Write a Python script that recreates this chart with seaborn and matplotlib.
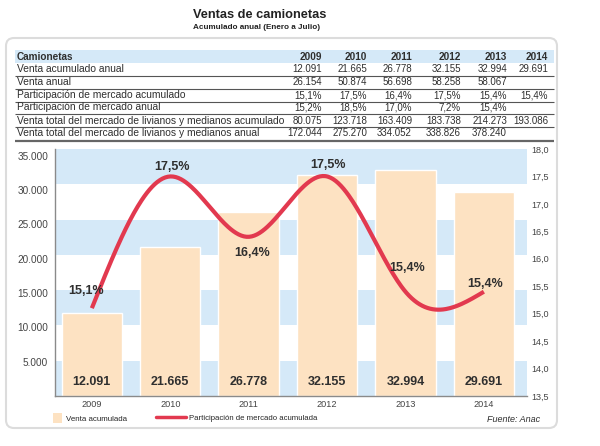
import numpy as np
import pandas as pd
import matplotlib
matplotlib.use('Agg')
import matplotlib.pyplot as plt
import matplotlib.transforms as mtransforms
import seaborn as sns
from matplotlib.patches import FancyBboxPatch, Rectangle, Patch
from matplotlib.lines import Line2D
from matplotlib.ticker import FuncFormatter

########### Datos ############
anios = ['2009', '2010', '2011', '2012', '2013', '2014']
venta_acumulada = [12091, 21665, 26778, 32155, 32994, 29691]
venta_anual = [26154, 50874, 56698, 58258, 58067, None]
part_acumulada = [15.1, 17.5, 16.4, 17.5, 15.4, 15.4]
part_anual = [15.2, 18.5, 17.0, 7.2, 15.4, None]
total_acumulado = [80075, 123718, 163409, 183738, 214273, 193086]
total_anual = [172044, 275270, 334052, 338826, 378240, None]

filas = ['Venta acumulado anual', 'Venta anual',
         'Participación de mercado acumulado', 'Participación de mercado anual',
         'Venta total del mercado de livianos y medianos acumulado',
         'Venta total del mercado de livianos y medianos anual']


def miles(v):
    return '' if v is None else f'{int(v):,}'.replace(',', '.')


def pct(v):
    return '' if v is None else f'{v:.1f}%'.replace('.', ',')


valores_tabla = [[miles(v) for v in venta_acumulada],
                 [miles(v) for v in venta_anual],
                 [pct(v) for v in part_acumulada],
                 [pct(v) for v in part_anual],
                 [miles(v) for v in total_acumulado],
                 [miles(v) for v in total_anual]]


def spline_natural(x, y, n=300):
    # curva suave (spline cubico natural) que pasa por los puntos
    x = np.asarray(x, float)
    y = np.asarray(y, float)
    m = len(x)
    h = np.diff(x)
    A = np.zeros((m, m))
    b = np.zeros(m)
    A[0, 0] = A[-1, -1] = 1
    for i in range(1, m - 1):
        A[i, i - 1] = h[i - 1]
        A[i, i] = 2 * (h[i - 1] + h[i])
        A[i, i + 1] = h[i]
        b[i] = 6 * ((y[i + 1] - y[i]) / h[i] - (y[i] - y[i - 1]) / h[i - 1])
    M = np.linalg.solve(A, b)
    xs = np.linspace(x[0], x[-1], n)
    k = np.clip(np.searchsorted(x, xs) - 1, 0, m - 2)
    x0, x1 = x[k], x[k + 1]
    hh = x1 - x0
    ys = (M[k] * (x1 - xs) ** 3 + M[k + 1] * (xs - x0) ** 3) / (6 * hh) \
        + (y[k] / hh - M[k] * hh / 6) * (x1 - xs) \
        + (y[k + 1] / hh - M[k + 1] * hh / 6) * (xs - x0)
    return xs, ys


########### Estilo ############
AZUL = '#d5e9f8'
DURAZNO = '#fde2c2'
ROJO = '#e2394f'
TEXTO = '#2f2f2f'

sns.set_theme(style='white')
plt.rcParams['font.family'] = ['Liberation Sans', 'DejaVu Sans']

fig = plt.figure(figsize=(6, 4.46), dpi=100)

# fondo en coordenadas de pixel (titulo, recuadro, tabla)
bg = fig.add_axes([0, 0, 1, 1], zorder=0)
bg.set_xlim(0, 600)
bg.set_ylim(446, 0)
bg.axis('off')

bg.add_patch(FancyBboxPatch((6, 38), 551, 390, boxstyle='round,pad=0,rounding_size=8',
                            fc='white', ec='#dcdcdc', lw=1.5))
bg.text(260, 15, 'Ventas de camionetas', ha='center', va='center', fontsize=9.2,
        fontweight='bold', color='#222222')
bg.text(257, 27.5, 'Acumulado anual (Enero a Julio)', ha='center', va='center', fontsize=5.9,
        fontweight='bold', color='#222222')

############ Tabla ############
col_der = [322, 367, 412, 461, 507, 548]
fila_y = [69, 82, 95, 107.5, 120.5, 133]
bg.add_patch(Rectangle((15, 50), 539, 12.5, fc=AZUL, ec='none'))
bg.text(17, 56.5, 'Camionetas', ha='left', va='center', fontsize=7.2, fontweight='bold', color=TEXTO)
for xr, a in zip(col_der, anios):
    bg.text(xr, 56.5, a, ha='right', va='center', fontsize=7.2, fontweight='bold', color=TEXTO)
for y, nombre, vals in zip(fila_y, filas, valores_tabla):
    bg.text(17, y, nombre, ha='left', va='center', fontsize=7.4, color=TEXTO)
    for xr, t in zip(col_der, vals):
        bg.text(xr, y, t, ha='right', va='center', fontsize=7, color=TEXTO)
bg.hlines([76, 89, 101.5, 114, 127], 15, 554, color='#555555', lw=0.8)
bg.hlines([141], 15, 554, color='#666666', lw=1.6)

############ Grafico ############
ax = fig.add_axes([55 / 600, 50 / 446, 472 / 600, 247 / 446], zorder=1)
ax.patch.set_alpha(0)
tope = 36000
for k in range(0, 7, 2):
    ax.axhspan(k * tope / 7, (k + 1) * tope / 7, color=AZUL, lw=0, zorder=0)

df = pd.DataFrame({'anio': anios, 'venta': venta_acumulada})
sns.barplot(data=df, x='anio', y='venta', color=DURAZNO, saturation=1, width=0.77,
            ax=ax, zorder=2)
ax.set_xlim(-0.47, 5.55)
ax.set_ylim(0, tope)
ax.set_yticks(range(5000, 36000, 5000))
ax.yaxis.set_major_formatter(FuncFormatter(lambda v, p: miles(v)))
ax.tick_params(axis='y', length=0, pad=5, labelsize=7.2, labelcolor='#444444')
ax.tick_params(axis='x', length=0, pad=3.2, labelsize=6.6, labelcolor='#444444')
ax.set_xlabel('')
ax.set_ylabel('')
for s in ['top', 'right']:
    ax.spines[s].set_visible(False)
for s in ['left', 'bottom']:
    ax.spines[s].set_color('#8a8a8a')
    ax.spines[s].set_linewidth(1)

trans = mtransforms.blended_transform_factory(ax.transData, ax.transAxes)
for i, v in enumerate(venta_acumulada):
    ax.text(i, 0.057, miles(v), transform=trans, ha='center', va='center',
            fontsize=9, fontweight='bold', color=TEXTO, zorder=3)

ax2 = ax.twinx()
ax2.set_ylim(13.5, 18)
ax2.set_yticks(np.arange(13.5, 18.01, 0.5))
ax2.yaxis.set_major_formatter(FuncFormatter(lambda v, p: f'{v:.1f}'.replace('.', ',')))
ax2.tick_params(axis='y', length=0, pad=3, labelsize=6.5, labelcolor='#444444')
for s in ax2.spines.values():
    s.set_visible(False)
ax2.grid(False)

xs, ys = spline_natural(range(len(part_acumulada)), part_acumulada)
ax2.plot(xs, ys, color=ROJO, lw=3, solid_capstyle='butt', zorder=3)

desplaz = [(-6, 17), (2, 9), (3, -16), (1, 11), (2, 24), (1, 8)]
for i, (v, (dx, dy)) in enumerate(zip(part_acumulada, desplaz)):
    ax2.annotate(pct(v), (i, v), xytext=(dx * 0.72, dy * 0.72), textcoords='offset points',
                 ha='center', va='center', fontsize=9, fontweight='bold', color=TEXTO, zorder=4)

############ Leyenda y fuente ############
fig.legend(handles=[Patch(fc=DURAZNO, ec='none', label='Venta acumulada')],
           loc='center left', bbox_to_anchor=(53 / 600, 1 - 418 / 446), frameon=False,
           prop={'size': 5.7}, handlelength=1.1, handleheight=1.4,
           handletextpad=0.5, borderpad=0, borderaxespad=0)
fig.legend(handles=[Line2D([], [], color=ROJO, lw=2.5, label='Participación de mercado acumulada')],
           loc='center left', bbox_to_anchor=(156 / 600, 1 - 418 / 446), frameon=False,
           prop={'size': 5.6}, handlelength=3.8,
           handletextpad=0.5, borderpad=0, borderaxespad=0)
bg.text(540, 419, 'Fuente: Anac', ha='right', va='center', fontsize=6.5, style='italic',
        color=TEXTO)

plt.savefig('out.png', dpi=100)
